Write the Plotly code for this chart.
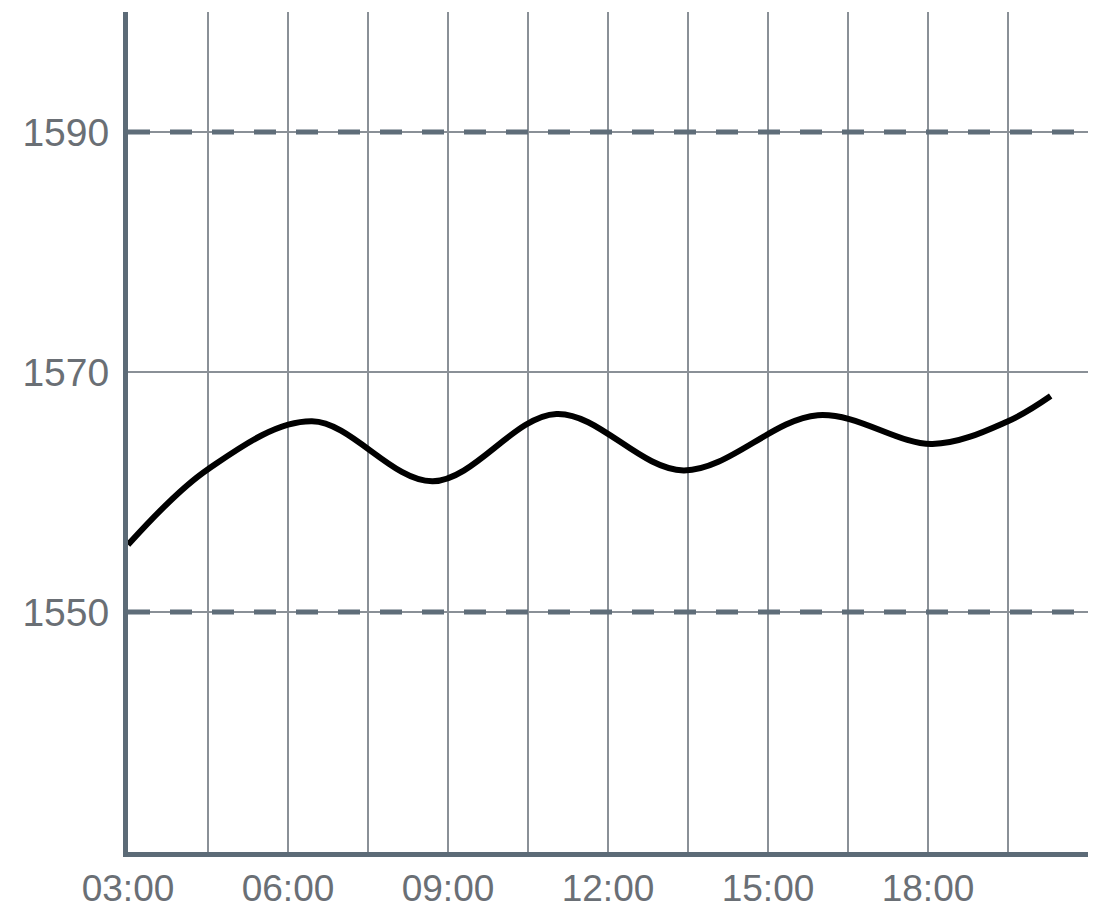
import plotly.graph_objects as go

# Data
times = ["03:00", "04:30", "06:27", "08:43", "11:02", "13:25", "15:56", "18:05", "19:30", "20:18"]
values = [1555.6, 1561.9, 1565.9, 1560.9, 1566.5, 1561.8, 1566.4, 1564.0, 1565.9, 1568.0]
tick_times = ["03:00", "06:00", "09:00", "12:00", "15:00", "18:00"]
y_ticks = [1550, 1570, 1590]
limits = [1550, 1590]

DAY = "2024-01-01 "
x = [DAY + t for t in times]

AXIS = "#5c6b77"
GRID = "#8a9097"
DASH = "#5f6d79"
TEXT = "#6a6f75"

fig = go.Figure()
fig.add_trace(go.Scatter(
    x=x, y=values, mode="lines",
    line=dict(color="black", width=6, shape="spline", smoothing=1.0),
    showlegend=False, hoverinfo="skip",
))

for lim in limits:
    fig.add_hline(y=lim, line=dict(color=DASH, width=5, dash="22px,20px"), layer="above")

fig.update_layout(
    width=1089, height=903,
    margin=dict(l=120, r=9, t=4, b=59),
    paper_bgcolor="white", plot_bgcolor="white",
    font=dict(family="Liberation Sans, Arial, sans-serif", color=TEXT, size=39),
)
fig.update_xaxes(
    type="date",
    range=[DAY + "03:00", DAY + "21:00"],
    tickmode="array",
    tickvals=[DAY + t for t in tick_times],
    ticktext=tick_times,
    showgrid=True, gridcolor=GRID, gridwidth=1.5,
    minor=dict(tick0=DAY + "03:00", dtick=5400000, showgrid=True, gridcolor=GRID, gridwidth=1.5),
    showline=True, linecolor=AXIS, linewidth=5,
    ticks="", ticklabelstandoff=0,
    zeroline=False, automargin=False,
    tickfont=dict(size=37, color=TEXT),
)
fig.update_yaxes(
    range=[1530, 1600],
    tickmode="array", tickvals=y_ticks, ticktext=[str(v) for v in y_ticks],
    showgrid=True, gridcolor=GRID, gridwidth=1.5,
    showline=True, linecolor=AXIS, linewidth=5,
    ticks="", ticklabelstandoff=6,
    zeroline=False, automargin=False,
    tickfont=dict(size=39, color=TEXT),
)

fig.write_html("out.html")
